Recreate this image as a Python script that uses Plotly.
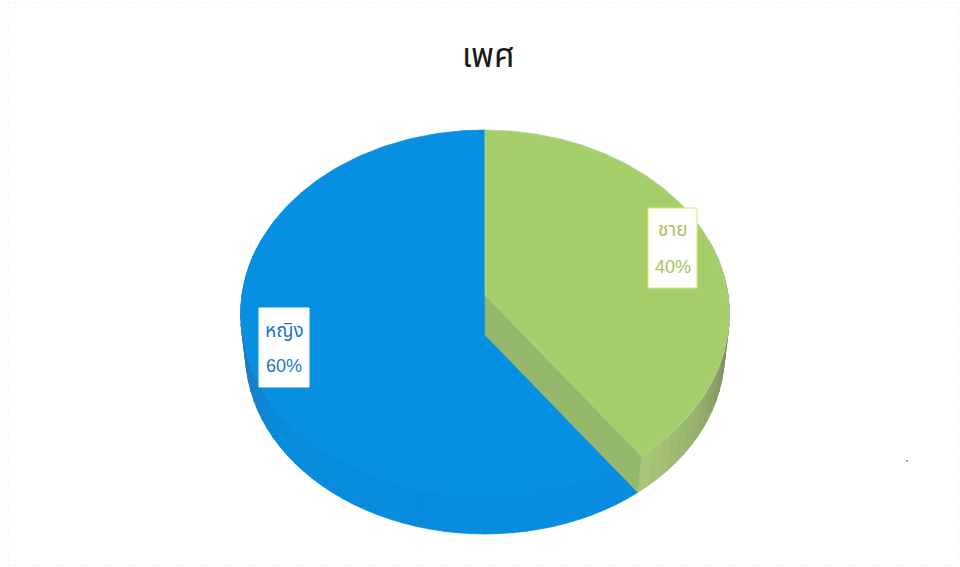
import numpy as np
import plotly.graph_objects as go

TITLE = "เพศ"
categories = ["ชาย", "หญิง"]
values = [40, 60]
top_colors = ["#a6cf6b", "#078fe2"]
text_colors = ["#a9c35f", "#1b78c4"]
# wall shade stops: (clockwise angle in degrees, colour as rgb)
wall_stops = [
    [(70, (147, 180, 103)), (95, (95, 110, 70)), (105, (125, 145, 90)), (125, (150, 178, 110)), (144, (170, 200, 120))],
    [(144, (7, 141, 224)), (235, (7, 139, 220)), (252, (25, 125, 195)), (265, (45, 115, 170)), (280, (10, 135, 215)), (290, (7, 143, 226))],
]
CUT_WALL = "#96b86c"
TOP_EDGE = "#0a8ad9"

FONT = "Noto Sans Thai, Noto Sans, DejaVu Sans, sans-serif"
CX, CY, AY, BX, K, DEPTH, BOTTOM_SCALE = 485, 295, 182, 243, 0.1033, 40, 0.98


def project(theta_deg, lower=False):
    t = np.radians(np.asarray(theta_deg, dtype=float))
    d = 1 + K * np.cos(t)
    x = BX * np.sin(t) / d
    y = -AY * np.cos(t) / d
    if lower:
        return CX + x * BOTTOM_SCALE, CY + DEPTH + y * BOTTOM_SCALE
    return CX + x, CY + y


def poly(x, y, color, lw=0.5, edge=None):
    return go.Scatter(x=list(x), y=list(y), mode="lines", fill="toself", fillcolor=color,
                      line=dict(color=edge or color, width=lw), hoverinfo="skip", showlegend=False)


def shade(stops, a):
    ang = [s[0] for s in stops]
    return "rgb(%d,%d,%d)" % tuple(np.interp(a, ang, [s[1][i] for s in stops]) for i in range(3))


def walls(a0, a1, stops):
    out = []
    edges = np.arange(a0, a1 + 0.01, 3.0)
    for s, e in zip(edges[:-1], edges[1:]):
        th = np.linspace(s, e, 4)
        xt, yt = project(th)
        xb, yb = project(th[::-1], lower=True)
        out.append(poly(np.r_[xt, xb, xt[0]], np.r_[yt, yb, yt[0]], shade(stops, (s + e) / 2), 0.8))
    return out


def top_face(a0, a1, color, edge=None):
    th = np.linspace(a0, a1, 181)
    x, y = project(th)
    ax, ay = project(0)[0], CY
    return poly(np.r_[ax, x, ax], np.r_[ay, y, ay], color, 0.8, edge)


fracs = np.cumsum([0] + values) / sum(values) * 360
g0, g1 = fracs[0], fracs[1]
b0, b1 = fracs[1], fracs[2]

traces = []
traces += walls(b0, 290, wall_stops[1])
traces.append(top_face(b0, b1, top_colors[1]))
# faint front rim of the top face on the blue slice
th = np.linspace(b0, 225, 60)
rx, ry = project(th)
traces.append(go.Scatter(x=rx, y=ry, mode="lines", line=dict(color=TOP_EDGE, width=1),
                         hoverinfo="skip", showlegend=False))
traces += walls(72, g1, wall_stops[0])
# cut wall of the green slice
ex, ey = project(g1)
lx, ly = project(g1, lower=True)
traces.append(poly([CX, CX, lx, ex, CX], [CY, CY + DEPTH, ly, ey, CY], CUT_WALL))
traces.append(top_face(g0, g1, top_colors[0], "#a9d3a0"))

fig = go.Figure(traces)

# label boxes and text
box = [dict(x0=648, x1=697, y0=208, y1=288, tx=672.5, y1t=230, y2t=267, border="#e4e86a"),
       dict(x0=259, x1=309, y0=308, y1=387, tx=284, y1t=331, y2t=366, border="#ffffff")]
shapes = [dict(type="rect", xref="x", yref="y", x0=8, x1=958, y0=3, y1=565,
               line=dict(color="#f2f2f2", width=1, dash="dot"), layer="below"),
          dict(type="circle", xref="x", yref="y", x0=906, x1=908, y0=460, y1=462,
               fillcolor="#4a90c8", line=dict(width=0), layer="below")]
ann = [dict(x=488, y=57, text=TITLE, showarrow=False, font=dict(size=33, color="#1a1a1a", family=FONT))]
for i, b in enumerate(box):
    shapes.append(dict(type="rect", xref="x", yref="y", x0=b["x0"], x1=b["x1"], y0=b["y0"], y1=b["y1"],
                       fillcolor="#ffffff", line=dict(color=b["border"], width=1)))
    ann.append(dict(x=b["tx"], y=b["y1t"], text=categories[i], showarrow=False,
                    font=dict(size=19, color=text_colors[i], family=FONT)))
    ann.append(dict(x=b["tx"], y=b["y2t"], text=f"{values[i]}%", showarrow=False,
                    font=dict(size=18, color=text_colors[i], family="Liberation Sans, Arial, sans-serif")))

fig.update_layout(
    width=960, height=567, margin=dict(l=0, r=0, t=0, b=0),
    paper_bgcolor="white", plot_bgcolor="white",
    xaxis=dict(range=[0, 960], visible=False, fixedrange=True),
    yaxis=dict(range=[567, 0], visible=False, fixedrange=True),
    shapes=shapes, annotations=ann, showlegend=False,
)
fig.write_html("out.html", config=dict(displayModeBar=False),
               post_script="document.body.style.margin='0';document.body.style.overflow='hidden';")
